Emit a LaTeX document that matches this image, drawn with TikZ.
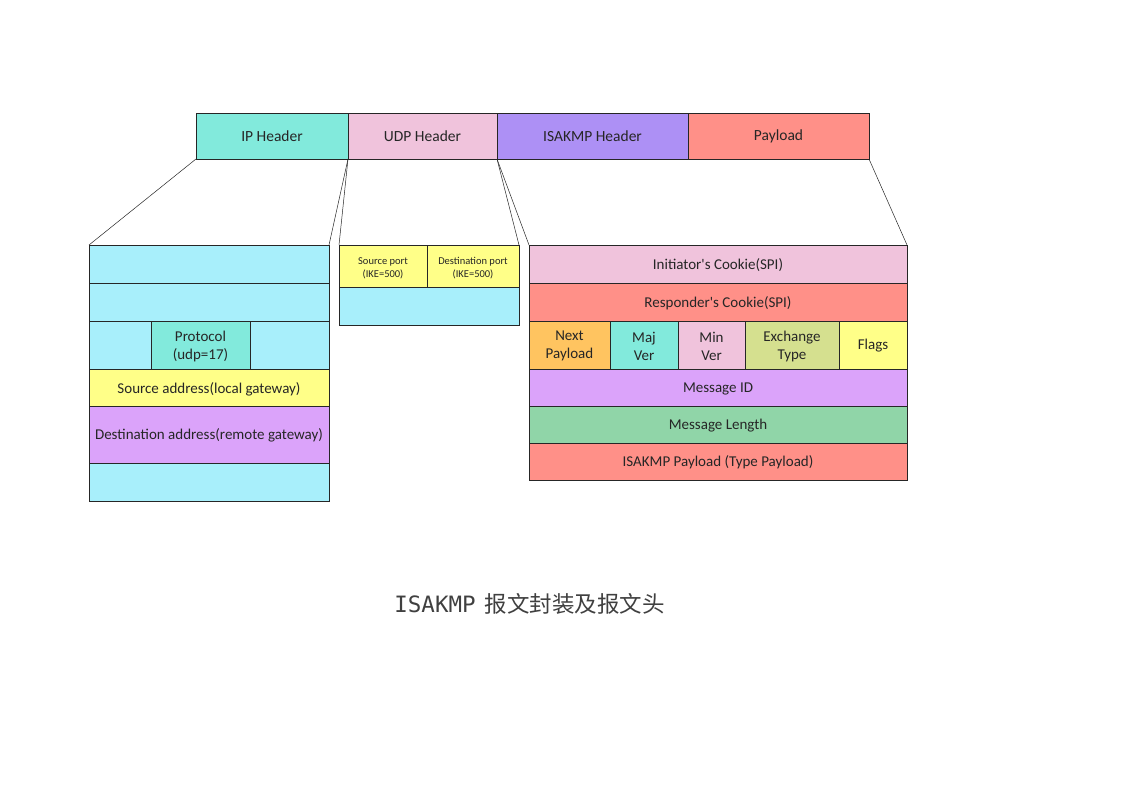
\documentclass[tikz,border=0pt]{standalone}
\usepackage{fontspec}
\setmainfont{Carlito}[Ligatures=TeXOff]
\newfontfamily\cjk{Noto Sans CJK SC}
\newfontfamily\monof{DejaVu Sans Mono}
\begin{document}
\begin{tikzpicture}[x=1pt,y=-1pt,
  cell/.style={draw=black!85,line width=0.6pt,text=black!85},
  lnk/.style={draw=black!85,line width=0.5pt}]
\definecolor{cteal}{HTML}{82EADC}
\definecolor{cpink}{HTML}{F0C3DC}
\definecolor{cpurp}{HTML}{AD90F5}
\definecolor{csalm}{HTML}{FF9088}
\definecolor{ccyan}{HTML}{A8EFFB}
\definecolor{cyel}{HTML}{FFFF88}
\definecolor{clav}{HTML}{DBA3FA}
\definecolor{corg}{HTML}{FFC460}
\definecolor{coliv}{HTML}{D5E08F}
\definecolor{cgrn}{HTML}{90D5A8}
\useasboundingbox (0,0) rectangle (1123,794);
\fill[white] (0,0) rectangle (1123,794);
% top bar
\begin{scope}[every node/.style={text=black!85,align=center,font=\fontsize{15.5}{18}\selectfont}]
\filldraw[cell,fill=cteal] (196,113) rectangle (348,159);
\filldraw[cell,fill=cpink] (348,113) rectangle (497,159);
\filldraw[cell,fill=cpurp] (497,113) rectangle (688,159);
\filldraw[cell,fill=csalm] (688,113) rectangle (869,159);
\node (ip) at (272,136.5) {IP Header};
\node (udp) at (422.5,136.5) {UDP Header};
\node (isa) at (592.5,136.5) {ISAKMP Header};
\node (pay) at (778.5,136.5) {Payload};
\end{scope}
\coordinate (t0) at (196,159);
\coordinate (t1) at (348,159);
\coordinate (t2) at (497,159);
\coordinate (t3) at (869,159);
% IP box
\begin{scope}[every node/.style={text=black!85,align=center,font=\fontsize{15}{18}\selectfont}]
\filldraw[cell,fill=ccyan] (89,245) rectangle (329,283);
\filldraw[cell,fill=ccyan] (89,283) rectangle (329,321);
\filldraw[cell,fill=ccyan] (89,321) rectangle (151,369);
\filldraw[cell,fill=cteal] (151,321) rectangle (250,369);
\filldraw[cell,fill=ccyan] (250,321) rectangle (329,369);
\filldraw[cell,fill=cyel] (89,369) rectangle (329,406);
\filldraw[cell,fill=clav] (89,406) rectangle (329,463);
\filldraw[cell,fill=ccyan] (89,463) rectangle (329,501);
\node (proto) at (200.5,346) {Protocol\\(udp=17)};
\node (src) at (209,389) {Source address(local gateway)};
\node (dst) at (209,435) {Destination address(remote gateway)};
\coordinate (ipl) at (89,245);
\coordinate (ipr) at (329,245);
\end{scope}
% UDP box
\begin{scope}[every node/.style={text=black!85,align=center,font=\fontsize{10.5}{13}\selectfont}]
\filldraw[cell,fill=cyel] (339,245) rectangle (427,287);
\filldraw[cell,fill=cyel] (427,245) rectangle (519,287);
\filldraw[cell,fill=ccyan] (339,287) rectangle (519,325);
\node (sp) at (383,268) {Source port\\(IKE=500)};
\node (dp) at (473,268) {Destination port\\(IKE=500)};
\coordinate (udl) at (339,245);
\coordinate (udr) at (519,245);
\end{scope}
% ISAKMP box
\begin{scope}[every node/.style={text=black!85,align=center,font=\fontsize{15}{18}\selectfont}]
\filldraw[cell,fill=cpink] (529,245) rectangle (907,283);
\filldraw[cell,fill=csalm] (529,283) rectangle (907,321);
\filldraw[cell,fill=corg] (529,321) rectangle (610,369);
\filldraw[cell,fill=cteal] (610,321) rectangle (678,369);
\filldraw[cell,fill=cpink] (678,321) rectangle (745,369);
\filldraw[cell,fill=coliv] (745,321) rectangle (839,369);
\filldraw[cell,fill=cyel] (839,321) rectangle (907,369);
\filldraw[cell,fill=clav] (529,369) rectangle (907,406);
\filldraw[cell,fill=cgrn] (529,406) rectangle (907,443);
\filldraw[cell,fill=csalm] (529,443) rectangle (907,480);
\node (ic) at (718,265) {Initiator's Cookie(SPI)};
\node (rc) at (718,303) {Responder's Cookie(SPI)};
\node (np) at (569.5,346) {Next\\Payload};
\node (mj) at (644,346) {Maj\\Ver};
\node (mn) at (711.5,346) {Min\\Ver};
\node (et) at (792,346) {Exchange\\Type};
\node (fl) at (873,346) {Flags};
\node (mid) at (718,389) {Message ID};
\node (ml) at (718,426) {Message Length};
\node (ip2) at (718,462) {ISAKMP Payload (Type Payload)};
\coordinate (isl) at (529,245);
\coordinate (isr) at (907,245);
\end{scope}
% connectors
\draw[lnk] (t0) -- (ipl);
\draw[lnk] (t1) -- (ipr);
\draw[lnk] (t1) -- (udl);
\draw[lnk] (t2) -- (udr);
\draw[lnk] (t2) -- (isl);
\draw[lnk] (t3) -- (isr);
% title
\node[text=black!75,font=\fontsize{22.5}{26}\selectfont] (title) at (529.5,604) {{\monof ISAKMP}\hspace{0.4em}{\cjk 报文封装及报文头}};
\end{tikzpicture}
\end{document}
